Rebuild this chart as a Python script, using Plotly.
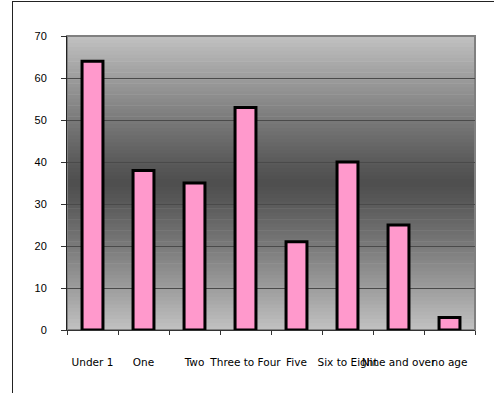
import plotly.graph_objects as go

categories = ["Under 1", "One", "Two", "Three to Four", "Five", "Six to Eight", "Nine and over", "no age"]
values = [64, 38, 35, 53, 21, 40, 25, 3]
y_ticks = [0, 10, 20, 30, 40, 50, 60, 70]

W, H = 494, 393
L, R, T, B = 67, 19, 36, 63
pw, ph = W - L - R, H - T - B

def px_x(x):
    return (x - L) / pw

def px_y(y):
    return (H - B - y) / ph

shapes = []
# vertical gradient background: light at top/bottom, dark in the middle
N = 80
light, dark = 194, 78
for i in range(N):
    f = (i + 0.5) / N
    t = abs(f - 0.5) * 2
    v = int(round(dark + (light - dark) * (t ** 1.15)))
    shapes.append(dict(type="rect", xref="paper", yref="paper", x0=0, x1=1,
                       y0=i / N, y1=(i + 1) / N + 0.002, line=dict(width=0),
                       fillcolor=f"rgb({v},{v},{v})", layer="below"))
# plot area border
shapes.append(dict(type="rect", xref="paper", yref="paper", x0=0, x1=1, y0=0, y1=1,
                   line=dict(color="#808080", width=2), layer="below"))
# outer frame (left and top lines)
shapes.append(dict(type="line", xref="paper", yref="paper", x0=px_x(12.5), x1=px_x(12.5),
                   y0=px_y(1), y1=px_y(H + 5), line=dict(color="#222", width=1)))
shapes.append(dict(type="line", xref="paper", yref="paper", x0=px_x(12.5), x1=px_x(W + 5),
                   y0=px_y(1.5), y1=px_y(1.5), line=dict(color="#222", width=1)))

fig = go.Figure(go.Bar(
    x=categories, y=values,
    marker=dict(color="#ff99cc", line=dict(color="black", width=3)),
))

fig.update_layout(
    width=W, height=H,
    margin=dict(l=L, r=R, t=T, b=B),
    paper_bgcolor="white", plot_bgcolor="rgba(0,0,0,0)",
    bargap=0.59, showlegend=False, shapes=shapes,
    font=dict(family="Liberation Sans, Arial", size=11, color="black"),
)
fig.update_xaxes(
    type="category", tickson="boundaries", ticks="outside", ticklen=4,
    tickcolor="#333", showline=True, linecolor="#333", linewidth=1,
    showgrid=False, tickangle=0, ticklabelstandoff=22,
    tickfont=dict(family="DejaVu Sans", size=10.5),
)
fig.update_yaxes(
    range=[0, 70], tickvals=y_ticks, ticks="outside", ticklen=5, tickcolor="#333",
    showline=True, linecolor="#222", linewidth=1,
    showgrid=True, gridcolor="#4a4a4a", gridwidth=1, zeroline=False,
    ticklabelstandoff=12,
)

fig.write_html("out.html")
